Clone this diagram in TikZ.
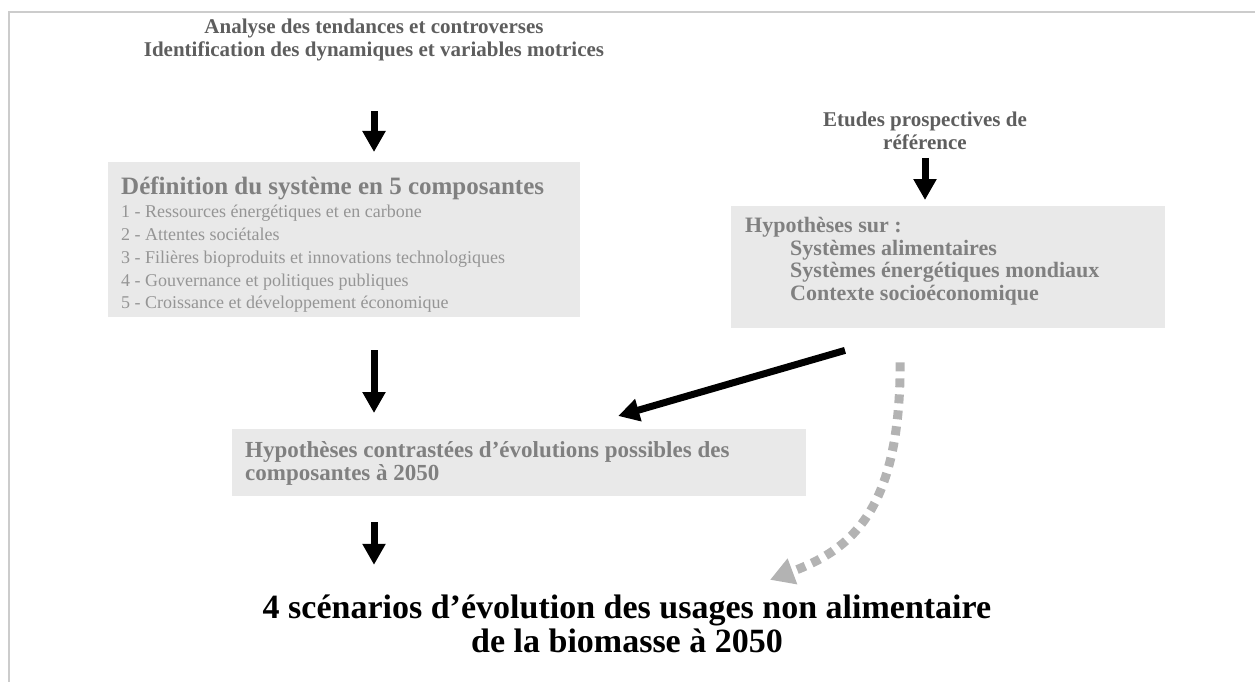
\documentclass[tikz,border=0pt]{standalone}
\usepackage{fontspec}
\setmainfont{Liberation Serif}
\usepackage{xcolor}
\usepackage{tikz}
\usetikzlibrary{positioning,arrows.meta,calc}

\definecolor{boxfill}{HTML}{E9E9E9}
\definecolor{headgray}{HTML}{5E5E5E}
\definecolor{titlegray}{HTML}{808080}
\definecolor{itemgray}{HTML}{959595}
\definecolor{dotgray}{HTML}{B3B3B3}
\definecolor{framegray}{HTML}{CCCCCC}

\begin{document}
\begin{tikzpicture}[
    x=1pt, y=-1pt,
    toptext/.style={align=center, text=headgray, font=\fontsize{21}{22.5}\selectfont\bfseries, inner sep=0pt},
    greybox/.style={rectangle, fill=boxfill, inner sep=0pt, anchor=north west},
    boxtext/.style={align=left, anchor=north west, inner sep=0pt},
    bigarrow/.style={-{Triangle[width=22pt,length=21pt]}, line width=7pt, black},
    dotarrow/.style={-{Triangle[width=26pt,length=24pt]}, line width=9pt, dotgray, dash pattern=on 9pt off 7pt}
]

\useasboundingbox (0,0) rectangle (1255,682);

% Frame
\draw[framegray, line width=2pt] (9,682) -- (9,12) -- (1255,12);

% Top texts
\node[toptext] (analyse) at (374,40) {Analyse des tendances et controverses\\Identification des dynamiques et variables motrices};
\node[toptext] (etudes) at (925,131) {Etudes prospectives de\\référence};

% Boxes
\node[greybox, minimum width=472pt, minimum height=155pt] (def) at (108,162) {};
\node[greybox, minimum width=434pt, minimum height=122pt] (hyp) at (731,206) {};
\node[greybox, minimum width=574pt, minimum height=67pt] (contr) at (232,429) {};

% Box texts
\node[boxtext, below right=15pt and 13pt of def.north west, font=\fontsize{18}{22.8}\selectfont, text=itemgray] (deftext)
  {{\fontsize{25}{26}\selectfont\bfseries\color{titlegray}Définition du système en 5 composantes}\\
   1 - Ressources énergétiques et en carbone\\
   2 - Attentes sociétales\\
   3 - Filières bioproduits et innovations technologiques\\
   4 - Gouvernance et politiques publiques\\
   5 - Croissance et développement économique};
\node[boxtext, below right=11pt and 14pt of hyp.north west, font=\fontsize{22}{22.6}\selectfont\bfseries, text=titlegray] (hyptext)
  {Hypothèses sur :\\
   \hspace*{45pt}Systèmes alimentaires\\
   \hspace*{45pt}Systèmes énergétiques mondiaux\\
   \hspace*{45pt}Contexte socioéconomique};
\node[boxtext, below right=12pt and 13pt of contr.north west, font=\fontsize{23}{23}\selectfont\bfseries, text=titlegray] (contrtext)
  {Hypothèses contrastées d’évolutions possibles des\\
   composantes à 2050};

% Result
\node[align=center, inner sep=0pt, font=\fontsize{34}{34}\selectfont\bfseries] (scen) at (627,624)
  {4 scénarios d’évolution des usages non alimentaire\\de la biomasse à 2050};

% Arrows
\draw[bigarrow, shorten <=50pt, shorten >=10pt] (analyse.south) -- (analyse.south |- def.north);
\draw[bigarrow, shorten <=8pt, shorten >=6pt] (etudes.south) -- (etudes.south |- hyp.north);
\draw[bigarrow, shorten <=33pt, shorten >=16pt] (def.south -| analyse.south) -- (contr.north -| analyse.south);
\draw[bigarrow, shorten <=26pt, shorten >=30pt] (contr.south -| analyse.south) -- (scen.north -| analyse.south);
\draw[bigarrow] ([shift={(114pt,-22pt)}]hyp.south west) -- ([shift={(99pt,13pt)}]contr.north);
\draw[dotarrow] ([shift={(-48pt,-34pt)}]hyp.south) .. controls +(0,-150pt) and +(80pt,30pt) .. ([shift={(143pt,15pt)}]scen.north);

\end{tikzpicture}
\end{document}
